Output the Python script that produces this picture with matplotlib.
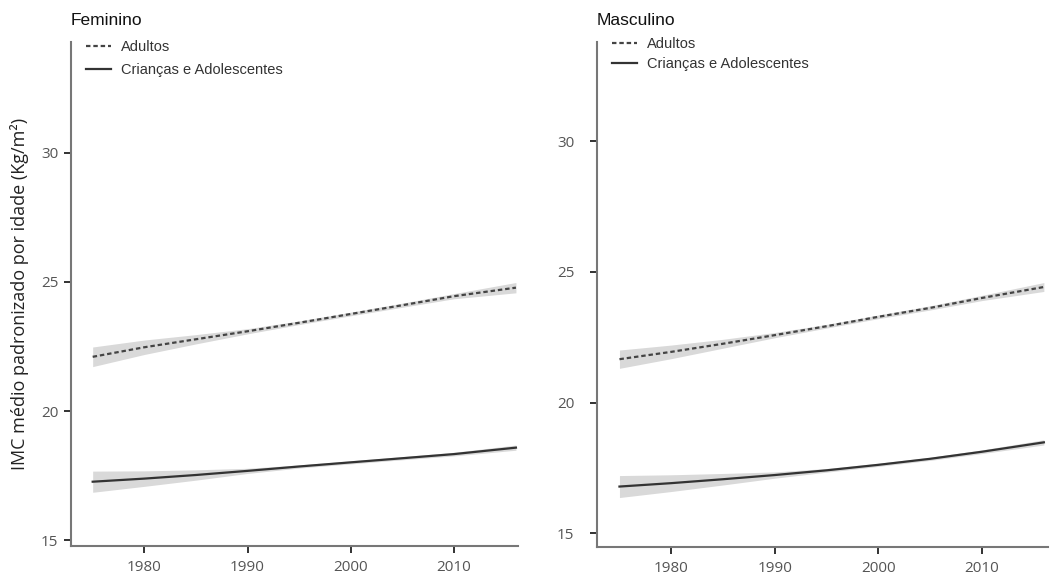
import matplotlib
matplotlib.use('Agg')
import matplotlib.pyplot as plt
import numpy as np

years = [1975, 1980, 1985, 1990, 1995, 2000, 2005, 2010, 2016]

# Feminino
fem_adultos = [22.10, 22.47, 22.78, 23.09, 23.42, 23.76, 24.10, 24.45, 24.78]
fem_adultos_ic = [0.38, 0.28, 0.18, 0.10, 0.07, 0.07, 0.08, 0.10, 0.20]
fem_criancas = [17.26, 17.38, 17.52, 17.68, 17.85, 18.01, 18.17, 18.33, 18.58]
fem_criancas_ic = [0.41, 0.30, 0.20, 0.10, 0.06, 0.06, 0.06, 0.07, 0.10]

# Masculino
mas_adultos = [21.66, 21.94, 22.25, 22.58, 22.92, 23.28, 23.62, 24.00, 24.42]
mas_adultos_ic = [0.35, 0.26, 0.17, 0.10, 0.07, 0.07, 0.08, 0.10, 0.17]
mas_criancas = [16.79, 16.92, 17.07, 17.23, 17.41, 17.62, 17.85, 18.12, 18.48]
mas_criancas_ic = [0.42, 0.32, 0.22, 0.12, 0.07, 0.06, 0.06, 0.07, 0.10]

yticks = [15, 20, 25, 30]
xticks = [1980, 1990, 2000, 2010]

tick_font = 'Open Sans'
text_font = 'Liberation Sans'

fig = plt.figure(figsize=(10.51, 5.75), dpi=100)

# title, series, axes rect, limits, legend row gap, legend top, y tick pad
panels = [
    ('Feminino', fem_adultos, fem_adultos_ic, fem_criancas, fem_criancas_ic,
     [71 / 1051, 29.3 / 575, 447 / 1051, 503.7 / 575], (1972.9, 2016.2), (14.78, 34.3),
     0.62, 1.03, 4),
    ('Masculino', mas_adultos, mas_adultos_ic, mas_criancas, mas_criancas_ic,
     [596.7 / 1051, 28.3 / 575, 451.3 / 1051, 505 / 575], (1972.8, 2016.4), (14.49, 33.8),
     0.40, 1.035, 11),
]

x = np.array(years)
for title, ad, ad_ic, cr, cr_ic, rect, xlim, ylim, lspace, ltop, ypad in panels:
    ax = fig.add_axes(rect)
    ad = np.array(ad); ad_ic = np.array(ad_ic)
    cr = np.array(cr); cr_ic = np.array(cr_ic)

    ax.fill_between(x, ad - ad_ic, ad + ad_ic, color='#d9d9d9', lw=0)
    ax.fill_between(x, cr - cr_ic, cr + cr_ic, color='#d9d9d9', lw=0)
    ax.plot(x, ad, color='#444444', lw=1.6, linestyle=(0, (2, 1.3)), label='Adultos')
    ax.plot(x, cr, color='#333333', lw=1.6, label='Crianças e Adolescentes')

    ax.set_xlim(*xlim)
    ax.set_ylim(*ylim)
    ax.set_xticks(xticks)
    ax.set_yticks(yticks)

    for side in ['top', 'right']:
        ax.spines[side].set_visible(False)
    for side in ['left', 'bottom']:
        ax.spines[side].set_color('#777777')
        ax.spines[side].set_linewidth(1.5)
    ax.tick_params(length=5, width=1.3, color='#222222', labelcolor='#555555',
                   labelsize=11, pad=5)
    ax.tick_params(axis='y', pad=ypad)
    for lab in ax.get_xticklabels() + ax.get_yticklabels():
        lab.set_fontfamily(tick_font)

    ax.text(0.0, 1.042, title, transform=ax.transAxes, ha='left', va='center',
            fontsize=12.5, family=text_font, color='#111111')

    leg = ax.legend(loc='upper left', bbox_to_anchor=(0.005, ltop), frameon=False,
                    handlelength=1.7, handletextpad=0.7, labelspacing=lspace,
                    prop={'family': text_font, 'size': 10.5})
    for t in leg.get_texts():
        t.set_color('#333333')

    if title == 'Feminino':
        ax.set_ylabel('IMC médio padronizado por idade (Kg/m²)', family=tick_font,
                      fontsize=13, color='#222222', labelpad=9)

fig.savefig('out.png', dpi=100)
